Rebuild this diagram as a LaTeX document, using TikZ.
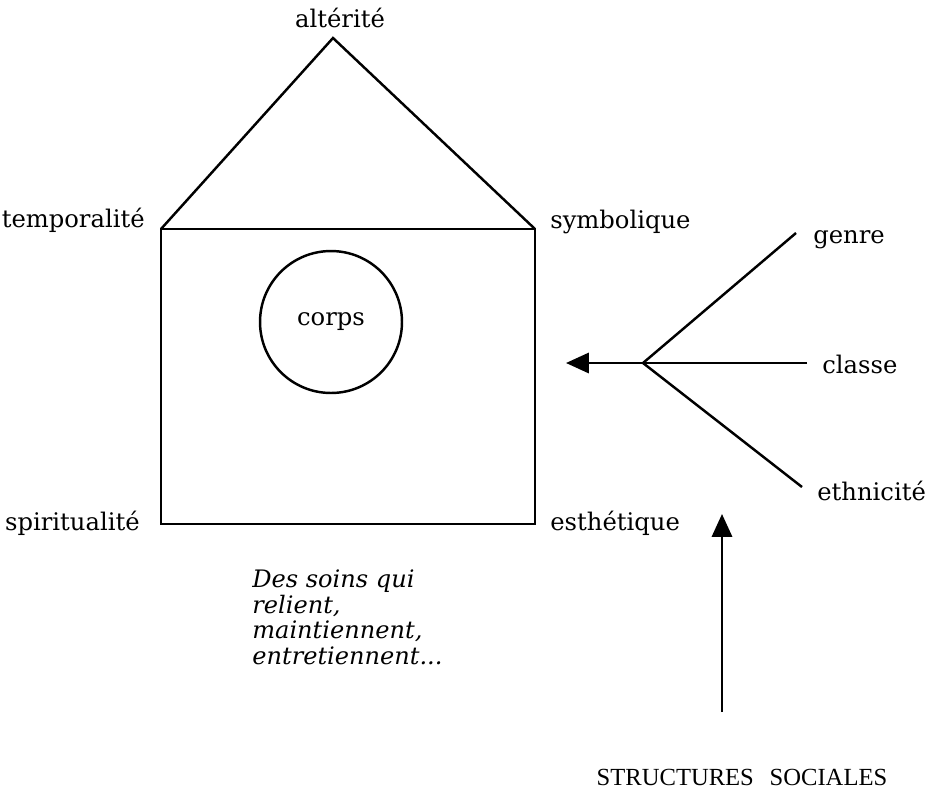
\documentclass[tikz,border=0pt]{standalone}
\usepackage{fontspec}
\setmainfont{DejaVu Serif}
\newfontfamily\capsfont{Liberation Serif}
\usetikzlibrary{arrows.meta}
\protected\def\soinsfont{\itshape\fontsize{13.7}{14.5}\selectfont\lineskiplimit=-20pt\relax}
\tikzset{
  lbl/.style={font=\fontsize{13.8}{16}\selectfont, inner sep=0pt},
  stroke/.style={line width=1.4pt},
  bigtip/.style={-{Triangle[length=13pt,width=11.5pt]}}
}
\begin{document}
\begin{tikzpicture}[x=0.02cm,y=-0.02cm]
    \useasboundingbox (0,0) rectangle (940,792);
    % the house
    \coordinate (apex) at (333,38);
    \coordinate (tl) at (161,229);
    \coordinate (tr) at (535,229);
    \coordinate (bl) at (161,524);
    \coordinate (br) at (535,524);
    \draw[stroke] (tl) -- (apex) -- (tr);
    \draw[stroke] (tl) rectangle (br);
    \node[circle, draw, stroke, minimum size=2.84cm, lbl] (corps) at (331,322) {corps};
    \node[lbl, anchor=base] (alt) at (340,27) {altérité};
    \node[lbl, anchor=base east] (temp) at (145,227) {temporalité};
    \node[lbl, anchor=base east] (spir) at (140,530) {spiritualité};
    \node[lbl, anchor=base west] (symb) at (550,228) {symbolique};
    \node[lbl, anchor=base west] (esth) at (550,530) {esthétique};
    % the fork
    \coordinate (fork) at (643,363);
    \coordinate (tipleft) at (566,363);
    \coordinate (g) at (796,233);
    \coordinate (c) at (807,363);
    \coordinate (e) at (802,487);
    \draw[stroke] (g) -- (fork) -- (e);
    \draw[stroke] (c) -- (fork);
    \draw[stroke, bigtip] (fork) -- (tipleft);
    \node[lbl, anchor=base west] (genre) at (813,243) {genre};
    \node[lbl, anchor=base west] (classe) at (822,373) {classe};
    \node[lbl, anchor=base west] (ethn) at (817,500) {ethnicité};
    % social structures
    \node[font=\capsfont\fontsize{14}{16}\selectfont, inner sep=0pt, anchor=base] (struct) at (742,785) {STRUCTURES\hspace{9pt}SOCIALES};
    \coordinate (foot) at (722,712);
    \coordinate (tipup) at (722,514);
    \draw[stroke, bigtip] (foot) -- (tipup);
    \node[font=\soinsfont, anchor=base west, align=left, inner sep=0pt] (soins) at (252,664)
      {Des soins qui\\relient,\\maintiennent,\\entretiennent...};
\end{tikzpicture}
\end{document}
